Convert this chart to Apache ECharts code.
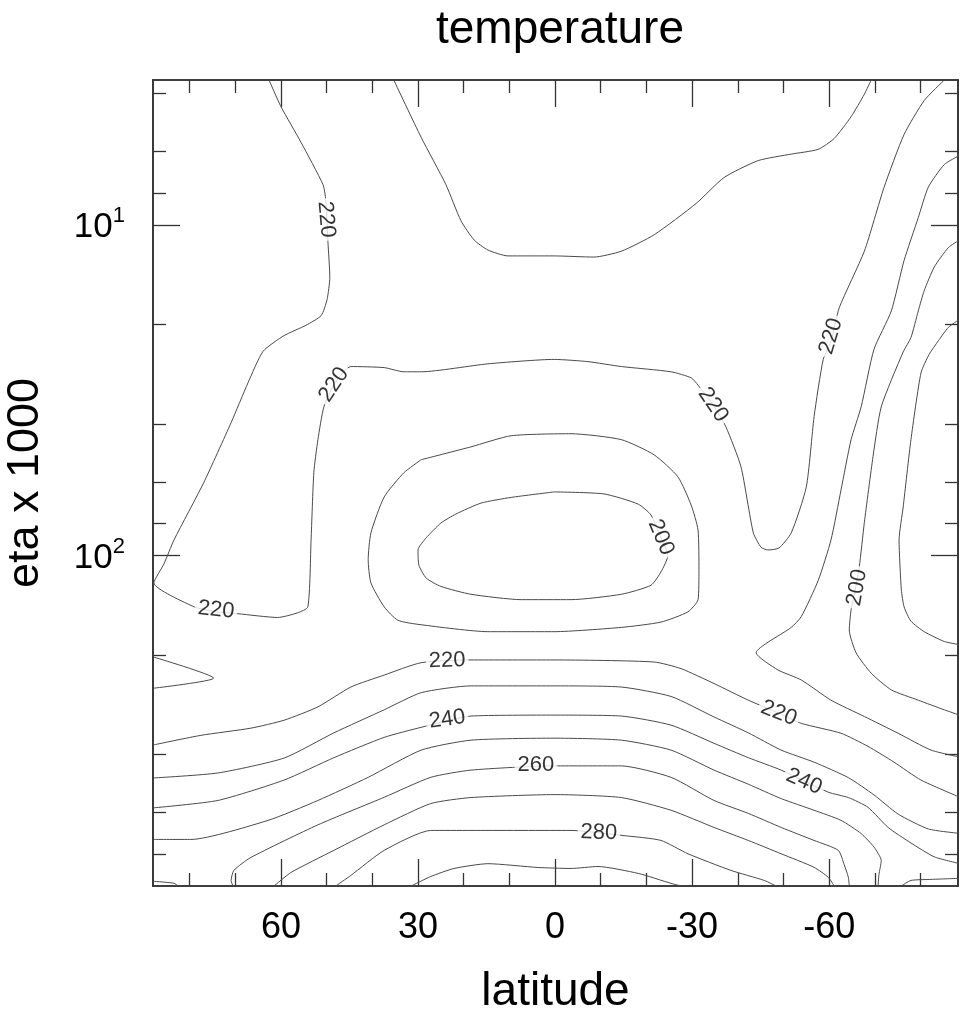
<!DOCTYPE html>
<html>
<head>
<meta charset="utf-8">
<script src="https://cdn.jsdelivr.net/npm/echarts@6/dist/echarts.min.js"></script>
<style>
html,body{margin:0;padding:0;background:#fff;}
#chart{width:967px;height:1016px;}
</style>
</head>
<body>
<div id="chart"></div>
<script>
// ---- data: contour lines as [latitude, eta x 1000] ----
const c220main = [[62.6,3.64],[60,4.38],[55.6,5.62],[50.8,7.54],[50.2,8.37],[49.7,11.3],[49.3,14.4],[49.9,16.8],[51.2,18.8],[54.5,20.1],[59.3,21.6],[63.9,24.1],[67.2,30.0],[70.9,39.6],[76.9,60.2],[83.4,89.7],[85.6,106],[87.8,121],[79.0,143],[74.2,148],[69.4,150],[60.7,154],[56.3,149],[54.1,143],[53.4,89.7],[52.8,56.2],[51.9,44.6],[50.6,35.5],[48.4,30.4],[44.7,26.8],[37.4,27.0],[33.1,27.8],[29.3,27.8],[14.7,26.3],[0.2,25.5],[-7.2,25.9],[-14.5,26.8],[-25.4,27.8],[-29.8,29.0],[-31.3,30.5],[-34.6,35.0],[-37.4,40.8],[-40.7,53.9],[-43.4,85.4],[-45.1,94.4],[-46.6,96.2],[-49.0,94.9],[-51.7,85.4],[-55.0,62.0],[-56.7,38.0],[-58.7,25.5],[-60.4,22.5],[-62.2,17.8],[-67.7,12.0],[-72.0,7.70],[-76.4,5.32],[-80.8,4.2],[-85.2,3.64]];
const cTopDip = [[35.3,3.64],[29.3,5.43],[23.9,7.54],[20.6,9.7],[17.7,11.1],[14.7,11.9],[10.3,12.4],[0.2,12.4],[-8.5,12.5],[-14.5,12.0],[-21.7,10.7],[-30.9,8.6],[-37,7.18],[-44.5,6.38],[-51.7,6.1],[-57.6,5.9],[-61.1,5.47],[-64.8,4.70],[-67.7,4.02],[-69.2,3.64]];
const c210right = [[-88.5,6.16],[-85.2,6.56],[-81.7,7.68],[-79.5,9.5],[-76.4,12.8],[-73.6,18.2],[-69.8,23.8],[-67.0,35.5],[-64.8,44.6],[-62.6,63.3],[-60.4,89.7],[-57.6,119],[-53.9,153],[-51.7,165],[-44.0,197],[-48.8,222],[-53.9,238],[-60.4,274],[-67.7,307],[-75.1,345],[-82.3,388],[-88.5,407]];
const c200right = [[-88.5,11.1],[-86.1,11.7],[-83.0,13.4],[-80.8,15.8],[-79.5,18.2],[-77.9,21.9],[-76.2,24.2],[-71.4,35.5],[-69.6,50.2],[-67.7,79.5],[-66.6,108],[-65.7,127],[-64.8,146],[-64.4,168],[-65.9,197],[-69.2,227],[-73.6,255],[-79.5,274],[-85.2,293],[-88.5,304]];
const c190right = [[-88.5,19.3],[-86.1,20.4],[-83.9,22.4],[-81.9,24.6],[-80.1,28.0],[-77.9,44.6],[-76.2,71.3],[-75.3,89.7],[-75.8,127],[-76.4,143],[-77.9,158],[-80.8,170],[-85.2,182],[-88.5,186]];
const c200loop = [[0.2,64.2],[-10.7,65.1],[-18.2,69.9],[-21.0,75.4],[-23.2,88.4],[-24.7,100],[-23.2,112],[-21.0,123],[-14.5,131],[-3.5,136],[7.4,136],[18.4,131],[25.0,124],[28.2,117],[29.8,107],[30.0,96.2],[28.2,88.4],[25.0,79.8],[21.7,74.9],[16.2,69.4],[9.6,66.7],[0.2,64.2]];
const c210loop = [[29.3,51.3],[18.4,46.9],[9.6,43.4],[-3.5,42.8],[-14.5,44.6],[-21.7,49.6],[-26.9,57.8],[-29.8,70.4],[-31.3,83.7],[-31.5,111],[-31.3,136],[-29.1,148],[-23.2,159],[-14.5,165],[0.2,170],[14.7,170],[29.3,162],[34.4,157],[37.4,143],[40.3,121],[40.9,103],[40.3,85.4],[37.4,66.5],[33.1,56.2],[29.3,51.3]];
const c210leftV = [[87.8,203],[74.7,235],[87.8,252]];
const c220low = [[87.8,374],[77.5,350],[66.6,333],[59.3,315],[51.9,287],[44.7,250],[37.4,230],[29.3,211],[18.4,207],[0.2,207],[-21.7,210],[-27.6,220],[-34.8,244],[-42.3,274],[-49.0,300],[-53.9,322],[-62.6,345],[-68.5,378],[-74.2,422],[-80.1,478],[-88.5,538]];
const c230 = [[87.8,471],[73.8,455],[59.3,410],[48.4,344],[37.4,293],[29.3,260],[18.4,248],[0.2,248],[-14.5,250],[-25.4,267],[-34.8,308],[-42.3,344],[-49.5,388],[-56.7,422],[-64.2,470],[-69.8,530],[-75.1,606],[-81.7,672],[-88.5,693]];
const c240 = [[87.8,580],[73.8,551],[59.3,478],[48.4,409],[37.4,355],[29.3,331],[18.4,306],[0.2,304],[-14.5,306],[-25.4,326],[-34.8,370],[-42.3,409],[-49.5,446],[-59.8,520],[-64.2,540],[-68.5,578],[-72.9,665],[-77.9,741],[-83.0,816],[-88.5,855]];
const c250 = [[87.8,723],[79.7,723],[62.8,633],[51.9,551],[40.9,469],[29.3,388],[18.4,362],[0.2,357],[-14.5,362],[-25.4,388],[-34.8,446],[-42.3,492],[-49.5,544],[-56.7,590],[-62.6,633],[-67.0,694],[-69.8,762],[-71.4,837],[-70.9,923],[-70.7,1000]];
const c260 = [[70.5,1000],[70.9,962],[70.3,897],[66.6,820],[51.9,653],[37.4,539],[27.2,469],[18.4,446],[0.2,433],[-14.5,433],[-25.4,469],[-34.8,551],[-42.3,603],[-49.5,665],[-56.7,728],[-62.0,780],[-63.3,863],[-64.2,941],[-64.4,1000]];
const c270 = [[61.5,1000],[57.8,910],[48.4,780],[37.4,653],[27.2,563],[18.4,540],[0.2,529],[-14.5,540],[-25.4,590],[-34.8,665],[-42.3,728],[-49.5,799],[-56.7,878],[-59.8,941],[-61.1,1000]];
const c280 = [[48.0,1000],[44.7,929],[37.4,780],[27.2,679],[18.4,679],[-3.5,679],[-15.1,704],[-23.2,728],[-29.1,799],[-38.5,897],[-45.8,962],[-48.4,1000]];
const c290 = [[31.5,1000],[27.2,936],[22.1,885],[14.7,856],[3.7,879],[-3.5,885],[-9.4,873],[-18.2,916],[-25.4,982],[-27.6,1000]];
const cCornerL = [[87.8,968],[83.4,981],[82.5,1000]];
const cCornerR = [[-75.8,1000],[-77.9,962],[-82.3,955],[-88.5,948]];

// contour labels: [lat, eta, text, angle]
const contourLabels = [
  [50.1,9.62,'220',-85],[48.4,30.4,'220',56],[74.2,146,'220',-6],[-34.6,35,'220',-56],
  [-60.4,21.7,'220',73],[-23.2,88,'200',-67],[-66.1,125,'200',80],[23.6,208,'220',2],
  [23.6,313,'240',8],[4.2,429,'260',0],[-9.6,689,'280',-2],[-49.0,300,'220',-22],[-54.5,483,'240',-24]
];

// axes ticks / labels
const xMajor = [60,30,0,-30,-60];
const xMinor = [80,70,50,40,20,10,-10,-20,-40,-50,-70,-80];
const yMajor = [10,100];
const yMinor = [4,6,8,20,40,60,80,200,400,600,800];

const FONT = "'Liberation Sans',Arial,sans-serif";
const xMin = -88.2, xMax = 88.0, yMin = 3.64, yMax = 1000;
const frameColor = '#333';
const lineColor = '#4a4a4a';

const contours = [c220main,cTopDip,c210right,c200right,c190right,c200loop,c210loop,c210leftV,c220low,c230,c240,c250,c260,c270,c280,c290,cCornerL,cCornerR];

function xAx(pos, ticks, len, labels) {
  return {
    type:'value', position:pos, min:xMin, max:xMax, inverse:true,
    axisLine:{show:true, onZero:false, lineStyle:{color:frameColor, width:1.6}},
    axisTick:{show:true, inside:true, length:len, customValues:ticks, lineStyle:{color:frameColor, width:1.3}},
    axisLabel: labels ? {show:true, customValues:xMajor, margin:24, fontSize:36, fontFamily:FONT, color:'#000',
      formatter: v => String(v)} : {show:false},
    splitLine:{show:false},
    name: labels ? 'latitude' : '', nameLocation:'middle', nameGap:83,
    nameTextStyle:{fontSize:46, fontFamily:FONT, color:'#000'}
  };
}
function yAx(pos, ticks, len, labels) {
  return {
    type:'log', logBase:10, position:pos, min:yMin, max:yMax, inverse:true,
    axisLine:{show:true, onZero:false, lineStyle:{color:frameColor, width:1.6}},
    axisTick:{show:true, inside:true, length:len, customValues:ticks, lineStyle:{color:frameColor, width:1.3}},
    axisLabel: labels ? {show:true, customValues:yMajor, margin:28, fontFamily:FONT, color:'#000',
      formatter: v => '{b|10}{s|' + Math.round(Math.log10(v)) + '}',
      rich:{ b:{fontSize:35, fontFamily:FONT, color:'#000', lineHeight:40, verticalAlign:'bottom'},
             s:{fontSize:22, fontFamily:FONT, color:'#000', lineHeight:40, verticalAlign:'top'} } } : {show:false},
    splitLine:{show:false}, minorTick:{show:false},
    name: labels ? 'eta x 1000' : '', nameLocation:'middle', nameGap:105, nameRotate:90,
    nameTextStyle:{fontSize:45, fontFamily:FONT, color:'#000'}
  };
}

const series = contours.map(c => ({
  type:'line', data:c, xAxisIndex:0, yAxisIndex:0, showSymbol:false, smooth:0.2,
  lineStyle:{color:lineColor, width:1}, silent:true, animation:false, z:2
}));
series.push({
  type:'scatter', xAxisIndex:0, yAxisIndex:0, symbolSize:0, silent:true, animation:false, z:5,
  data: contourLabels.map(l => ({
    value:[l[0], l[1]],
    label:{show:true, position:'inside', formatter:l[2], rotate:l[3], fontSize:22, fontFamily:FONT,
      color:'#000', backgroundColor:'#fff', padding:[0,3]}
  }))
});

const chart = echarts.init(document.getElementById('chart'), null, {renderer:'canvas'});
chart.setOption({
  animation:false,
  backgroundColor:'#fff',
  title:{text:'temperature', left:555, top:2, textAlign:'center',
    textStyle:{fontSize:46, fontWeight:'normal', fontFamily:FONT, color:'#000'}},
  grid:{left:153, right:9, top:80, bottom:130, containLabel:false, outerBoundsMode:'none'},
  xAxis:[xAx('bottom', xMajor, 27, true), xAx('bottom', xMinor, 13, false), xAx('top', xMajor, 27, false), xAx('top', xMinor, 13, false)],
  yAxis:[yAx('left', yMajor, 27, true), yAx('left', yMinor, 13, false), yAx('right', yMajor, 27, false), yAx('right', yMinor, 13, false)],
  series: series
});
</script>
</body>
</html>
